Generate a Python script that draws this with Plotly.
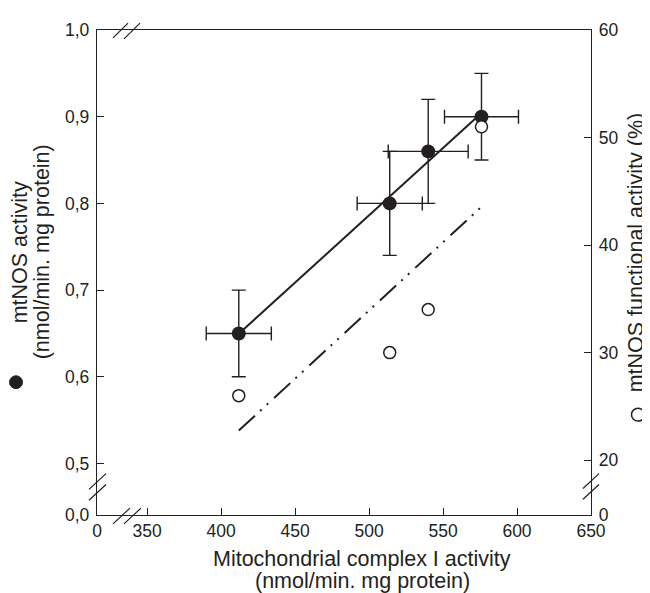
import numpy as np
import plotly.graph_objects as go

# ---------------- data ----------------
complex_i = [412, 514, 540, 576]            # nmol/min. mg protein
complex_i_err = [22, 22, 27, 25]
mtnos_activity = [0.65, 0.80, 0.86, 0.90]   # nmol/min. mg protein
mtnos_err = [0.05, 0.06, 0.06, 0.05]
functional_activity = [26, 30, 34, 51]      # %

x_tick_labels = ["0", "350", "400", "450", "500", "550", "600", "650"]
x_tick_values = [350, 400, 450, 500, 550, 600, 650]
yl_tick_labels = ["0,0", "0,5", "0,6", "0,7", "0,8", "0,9", "1,0"]
yl_tick_values = [0.5, 0.6, 0.7, 0.8, 0.9, 1.0]
yr_tick_labels = ["0", "20", "30", "40", "50", "60"]
yr_tick_values = [20, 30, 40, 50, 60]

# ---------------- layout constants (broken axes) ----------------
X_LO, X_HI = 316.2, 650        # axis start stands for "0"
YL_LO, YL_HI = 0.4406, 1.0     # axis start stands for "0,0"
YR_LO, YR_HI = 14.9, 60        # axis start stands for "0"

INK = "#231f20"
FONT = "Liberation Sans, Arial, sans-serif"
TICK_SIZE = 17.5
TITLE_SIZE = 21.5

# the page body has an 8px margin: the figure is drawn from (8, 8)
OFF = 8

# regression lines computed from the data
xs = np.array([min(complex_i), max(complex_i)], dtype=float)
fit_a = np.polyval(np.polyfit(complex_i, mtnos_activity, 1), xs)
fit_b = np.polyval(np.polyfit(complex_i, functional_activity, 1), xs)

fig = go.Figure()

fig.add_trace(go.Scatter(
    x=xs, y=fit_a, mode="lines", yaxis="y",
    line=dict(color=INK, width=2), hoverinfo="skip", showlegend=False))

fig.add_trace(go.Scatter(
    x=complex_i, y=mtnos_activity, mode="markers", yaxis="y",
    marker=dict(size=14, color=INK, line=dict(width=0)),
    error_x=dict(type="data", array=complex_i_err, visible=True,
                 color=INK, thickness=1.4, width=7),
    error_y=dict(type="data", array=mtnos_err, visible=True,
                 color=INK, thickness=1.4, width=7),
    showlegend=False))

fig.add_trace(go.Scatter(
    x=xs, y=fit_b, mode="lines", yaxis="y2",
    line=dict(color=INK, width=2, dash="22px,7px,2px,7px,2px,8px"),
    hoverinfo="skip", showlegend=False))

fig.add_trace(go.Scatter(
    x=complex_i, y=functional_activity, mode="markers", yaxis="y2",
    marker=dict(size=12, color="white", line=dict(color=INK, width=1.5)),
    showlegend=False))

axis_common = dict(
    showgrid=False, zeroline=False, showline=True, linecolor=INK,
    linewidth=1.4, ticks="inside", ticklen=7, tickwidth=1.3,
    tickcolor=INK, tickfont=dict(family=FONT, size=TICK_SIZE, color=INK))

fig.update_layout(
    width=650 - OFF, height=593 - OFF, autosize=False,
    margin=dict(l=97 - OFF, r=59, t=22 - OFF, b=78),
    paper_bgcolor="white", plot_bgcolor="white",
    font=dict(family=FONT, color=INK),
    xaxis=dict(range=[X_LO, X_HI], tickvals=[X_LO] + x_tick_values,
               ticktext=x_tick_labels, mirror=True, **axis_common),
    yaxis=dict(range=[YL_LO, YL_HI], tickvals=[YL_LO] + yl_tick_values,
               ticktext=yl_tick_labels, ticklabelstandoff=3, **axis_common),
    yaxis2=dict(range=[YR_LO, YR_HI], tickvals=[YR_LO] + yr_tick_values,
                ticktext=yr_tick_labels, overlaying="y", side="right",
                ticklabelstandoff=3, **axis_common),
)

# ---- axis-break marks "//" (page pixel positions -> paper) ----
PW, PH, L0, B0 = 494.0, 493.0, 97.0, 515.0
def px(x):
    return (x - L0) / PW
def py(y):
    return (B0 - y) / PH

breaks = [
    # top axis
    (113, 30, 128, 15), (124, 31, 140, 15),
    # bottom axis
    (113, 524, 130, 508), (124, 524, 141, 508),
    # left axis
    (89, 489, 106, 473), (89, 500, 106, 484),
    # right axis
    (583, 488, 599, 473), (583, 499, 599, 484),
]
for x0, y0, x1, y1 in breaks:
    fig.add_shape(type="line", xref="paper", yref="paper",
                  x0=px(x0), y0=py(y0), x1=px(x1), y1=py(y1),
                  line=dict(color=INK, width=1.2))

# ---- legend symbols next to the y titles ----
r = 6.5
fig.add_shape(type="circle", xref="paper", yref="paper",
              x0=px(16 - r), x1=px(16 + r), y0=py(380 + r), y1=py(380 - r),
              fillcolor=INK, line=dict(color=INK, width=1))
fig.add_shape(type="circle", xref="paper", yref="paper",
              x0=px(638 - r), x1=px(638 + r), y0=py(413 + r), y1=py(413 - r),
              fillcolor="white", line=dict(color=INK, width=1.5))

# ---- axis titles ----
tfont = dict(family=FONT, size=TITLE_SIZE, color=INK)
ann = [
    dict(text="Mitochondrial complex I activity", x=px(362), y=py(560)),
    dict(text="(nmol/min. mg protein)", x=px(362), y=py(582)),
    dict(text="mtNOS activity", x=px(20), y=py(248), textangle=-90),
    dict(text="(nmol/min. mg protein)", x=px(42), y=py(248), textangle=-90),
    dict(text="mtNOS functional activity (%)", x=px(636), y=py(248), textangle=-90),
]
for a in ann:
    fig.add_annotation(xref="paper", yref="paper", showarrow=False,
                       xanchor="center", yanchor="middle", font=tfont, **a)

fig.write_html("out.html")
